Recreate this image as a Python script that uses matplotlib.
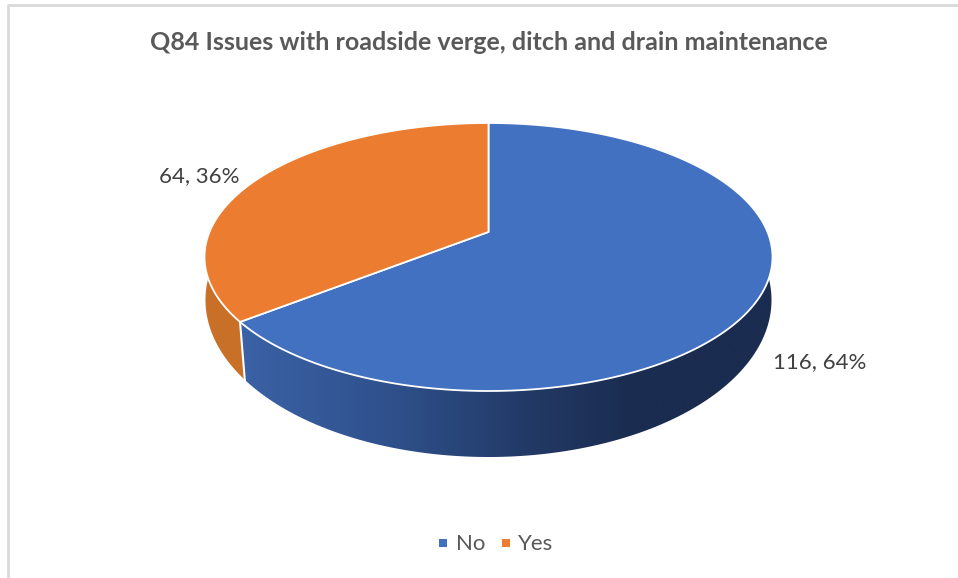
import numpy as np
import matplotlib
matplotlib.use("Agg")
import matplotlib.pyplot as plt
from matplotlib.colors import LinearSegmentedColormap
from matplotlib.patches import Polygon, Rectangle

plt.rcParams['font.family'] = ['Lato', 'DejaVu Sans']

title = "Q84 Issues with roadside verge, ditch and drain maintenance"
categories = ["No", "Yes"]
counts = [116, 64]
percents = [64, 36]
colors = ["#4371C1", "#EB7C30"]

# pie geometry in pixels
cx, cy = 488.5, 257
rx, ry = 284, 134
tilt = 0.187  # the wedge apex sits above the ellipse centre
# lower rim of the side wall
low_cy, low_rx, low_ry = 300, 283, 157


def rim(theta):
    # clockwise from 12 o'clock, circle seen in perspective
    x = np.sin(theta)
    y = -np.cos(theta)
    yy = (y - tilt) / (1 - tilt * y)
    xx = x * np.sqrt(1 - tilt ** 2) / (1 - tilt * y)
    return cx + rx * xx, cy + ry * yy


def low_rim(a):
    # a measured clockwise from 12 o'clock on the lower ellipse
    return cx + low_rx * np.sin(a), low_cy - low_ry * np.cos(a)


fig = plt.figure(figsize=(9.58, 5.78), dpi=100)
ax = fig.add_axes([0, 0, 1, 1])
ax.axis("off")

# chart frame
ax.plot([8, 8, 958], [578, 5, 5], color="#d9d9d9", lw=2)

apex = (cx, cy + ry * (-tilt))
fractions = np.array(counts) / sum(counts)
edges = np.concatenate([[0], np.cumsum(fractions)]) * 2 * np.pi

# where the wedge edge meets the lower rim
ex, ey = rim(edges[1])
sx, sy = ex + 5, ey + 61
seam = np.pi + np.arcsin((cx - sx) / low_rx)

# side walls, their upper part is hidden under the top faces
a = np.linspace(np.radians(82), seam, 300)
lx, ly = low_rim(a)
blue_wall = Polygon(np.vstack([np.column_stack([lx, ly]), [ex, ey], apex]), closed=True, fc="none", ec="none")
ax.add_patch(blue_wall)
cmap = LinearSegmentedColormap.from_list(
    "wall", [(0, "#1A2C4F"), (0.25, "#1A2C4F"), (0.48, "#233B68"), (0.7, "#2E4F8A"), (1, "#3B62A6")])
img = ax.imshow(np.linspace(0, 1, 256).reshape(1, -1), extent=[240, 773, 578, 0], cmap=cmap.reversed(),
                aspect="auto", zorder=1)
img.set_clip_path(blue_wall)

a = np.linspace(seam, np.radians(280), 100)
lx, ly = low_rim(a)
ax.add_patch(Polygon(np.vstack([np.column_stack([lx, ly]), apex, [ex, ey]]), closed=True,
                     fc="#C86F28", ec="none", zorder=1))

ax.plot([ex, sx], [ey, sy], color="white", lw=1.5, zorder=2)

# top faces
for i in range(len(counts)):
    t = np.linspace(edges[i], edges[i + 1], 300)
    x, y = rim(t)
    pts = np.vstack([[apex], np.column_stack([x, y])])
    ax.add_patch(Polygon(pts, closed=True, fc=colors[i], ec="white", lw=1.3, joinstyle="round", zorder=3))

# labels
ax.text(199, 176, f"{counts[1]}, {percents[1]}%", color="#404040", fontsize=16, ha="center", va="center")
ax.text(820, 362, f"{counts[0]}, {percents[0]}%", color="#404040", fontsize=16, ha="center", va="center")
ax.text(488.5, 42, title, color="#595959", fontsize=18, fontweight="bold", ha="center", va="center")

# legend
ax.add_patch(Rectangle((439, 539), 8, 8, fc=colors[0], ec="none"))
ax.text(456, 544, categories[0], color="#595959", fontsize=16, ha="left", va="center")
ax.add_patch(Rectangle((502, 539), 8, 8, fc=colors[1], ec="none"))
ax.text(518, 544, categories[1], color="#595959", fontsize=16, ha="left", va="center")

ax.set_xlim(0, 958)
ax.set_ylim(578, 0)
fig.savefig("out.png", dpi=100)
